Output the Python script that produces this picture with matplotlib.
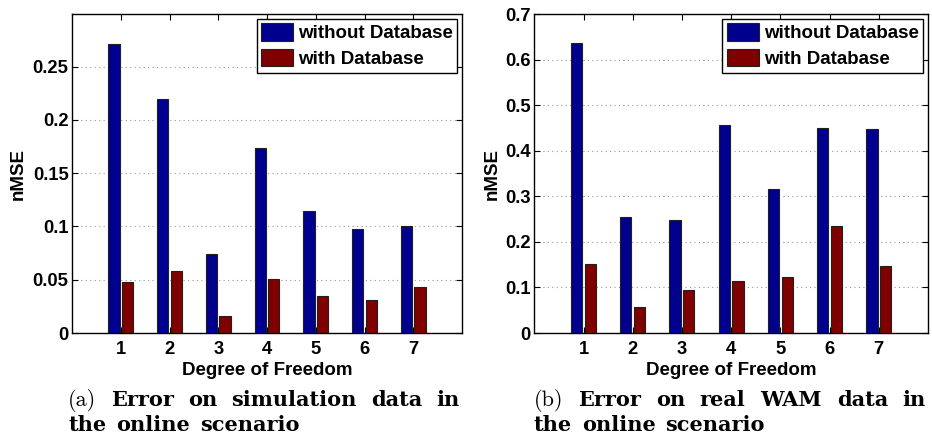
#!/usr/bin/env python3
"""nMSE per degree of freedom, with and without the database (online scenario)."""
import numpy as np
import matplotlib
matplotlib.use("Agg")
import matplotlib.pyplot as plt

DOF = [1, 2, 3, 4, 5, 6, 7]
SERIES_LABELS = ["without Database", "with Database"]

SIM_WITHOUT_DB = [0.271, 0.2197, 0.0744, 0.1734, 0.1144, 0.0975, 0.1009]
SIM_WITH_DB = [0.048, 0.0584, 0.0163, 0.0506, 0.0347, 0.0309, 0.0428]

WAM_WITHOUT_DB = [0.6355, 0.254, 0.248, 0.457, 0.316, 0.449, 0.447]
WAM_WITH_DB = [0.151, 0.0577, 0.095, 0.115, 0.1227, 0.2337, 0.148]

SIM_TICKS = [0, 0.05, 0.1, 0.15, 0.2, 0.25]
SIM_TICKLABELS = ["0", "0.05", "0.1", "0.15", "0.2", "0.25"]
WAM_TICKS = [0, 0.1, 0.2, 0.3, 0.4, 0.5, 0.6, 0.7]
WAM_TICKLABELS = ["0", "0.1", "0.2", "0.3", "0.4", "0.5", "0.6", "0.7"]

CAPTION_A = [["(a)", "Error", "on", "simulation", "data", "in"], ["the", "online", "scenario"]]
CAPTION_B = [["(b)", "Error", "on", "real", "WAM", "data", "in"], ["the", "online", "scenario"]]

COLORS = ["#00008F", "#800000"]
FS = 13.2
LABEL_FS = 13.5

plt.rcParams["font.family"] = ["Liberation Sans", "DejaVu Sans"]
plt.rcParams["font.weight"] = "bold"


def bar_panel(ax, without_db, with_db, ylim, ticks, ticklabels, ylabel_x):
    x = np.array(DOF, dtype=float)
    w = 0.23
    for off, vals, color, label in zip((-0.14, 0.14), (without_db, with_db), COLORS, SERIES_LABELS):
        ax.bar(x + off, vals, width=w, color=color, edgecolor="#202020",
               linewidth=0.8, label=label, zorder=3)
    ax.set_xlim(0, 8)
    ax.set_ylim(*ylim)
    ax.set_xticks(DOF)
    ax.set_yticks(ticks)
    ax.set_yticklabels(ticklabels)
    ax.tick_params(direction="in", length=4, width=0.8, top=True, right=True,
                   labelsize=FS, pad=2.5)
    ax.tick_params(axis="x", pad=6)
    ax.yaxis.grid(True, linestyle=(0, (1, 3)), color="#999999", linewidth=0.8, zorder=0)
    ax.set_axisbelow(True)
    for sp in ax.spines.values():
        sp.set_linewidth(1.0)
    ax.set_xlabel("Degree of Freedom", fontsize=LABEL_FS, fontweight="bold")
    ax.xaxis.set_label_coords(0.5, -0.09)
    ax.set_ylabel("nMSE", fontsize=LABEL_FS, fontweight="bold")
    ax.yaxis.set_label_coords(ylabel_x, 0.5)
    leg = ax.legend(loc="upper right", fontsize=LABEL_FS, fancybox=False, framealpha=1,
                    edgecolor="black", borderaxespad=0.25, borderpad=0.25,
                    handlelength=1.7, handleheight=1.05, handletextpad=0.25,
                    labelspacing=0.35)
    leg.get_frame().set_linewidth(1.0)


def caption(fig, lines, x0, x1, y_first, line_gap):
    # justify the first line between x0 and x1, like the LaTeX subcaption
    renderer = fig.canvas.get_renderer()
    for li, words in enumerate(lines):
        y = y_first - li * line_gap
        texts = []
        for word in words:
            if word.startswith("("):
                t = fig.text(0, y, word, fontsize=16, family="cmr10",
                             fontweight="normal", ha="left", va="baseline")
            else:
                t = fig.text(0, y, word, fontsize=15, family="DejaVu Serif",
                             fontweight="bold", ha="left", va="baseline")
            texts.append(t)
        widths = [t.get_window_extent(renderer).width / fig.bbox.width for t in texts]
        if li == 0:
            gap = (x1 - x0 - sum(widths)) / (len(words) - 1)
        else:
            gap = 10 / 932
        x = x0
        for t, wd in zip(texts, widths):
            t.set_x(x)
            x += wd + gap


fig = plt.figure(figsize=(9.32, 4.36), dpi=100)
ax1 = fig.add_axes([72 / 932, 103 / 436, 390 / 932, 319 / 436])
ax2 = fig.add_axes([534.3 / 932, 103 / 436, 393.7 / 932, 319 / 436])

bar_panel(ax1, SIM_WITHOUT_DB, SIM_WITH_DB, (0, 0.2995), SIM_TICKS, SIM_TICKLABELS, -0.115)
bar_panel(ax2, WAM_WITHOUT_DB, WAM_WITH_DB, (0, 0.7), WAM_TICKS, WAM_TICKLABELS, -0.085)

caption(fig, CAPTION_A, 68.3 / 932, 460 / 932, 1 - 406 / 436, 24.5 / 436)
caption(fig, CAPTION_B, 533.7 / 932, 926 / 932, 1 - 406 / 436, 24.5 / 436)

fig.savefig("out.png", dpi=100)
